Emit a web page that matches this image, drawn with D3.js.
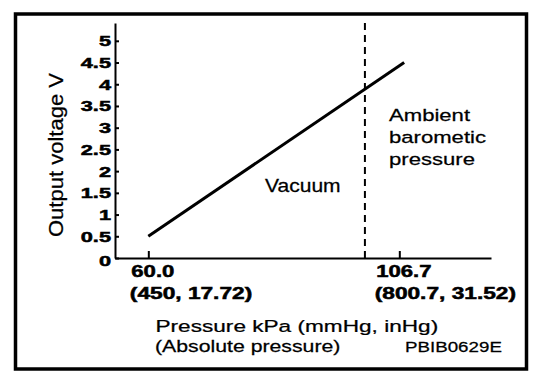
<!DOCTYPE html>
<html>
<head>
<meta charset="utf-8">
<script src="https://cdn.jsdelivr.net/npm/d3@7"></script>
<style>
    body { margin: 0; background: #fff; }
    text { font-family: "Liberation Sans", Arial, sans-serif; fill: #000; }
    .heavy { stroke: #000; stroke-width: 0.5px; }
    .reg { stroke: #000; stroke-width: 0.25px; }
</style>
</head>
<body>
<div id="plot-container"></div>
<script>
const voltageTicks = [0, 0.5, 1, 1.5, 2, 2.5, 3, 3.5, 4, 4.5, 5];
const pressureTicks = [60.0, 106.7];
const pressureTickLabels = ["60.0", "106.7"];
const pressureSubLabels = ["(450, 17.72)", "(800.7, 31.52)"];
const linePressure = [60.0, 107.6];
const lineVoltage = [0.5, 4.5];
const ambientPressure = 100.3;
const ambientLabel = ["Ambient", "barometic", "pressure"];

const width = 560, height = 382;

const svg = d3.select("#plot-container")
    .append("svg")
    .attr("width", width)
    .attr("height", height);

// outer frame
svg.append("rect")
    .attr("x", 15.5)
    .attr("y", 14)
    .attr("width", 511)
    .attr("height", 355)
    .attr("fill", "none")
    .attr("stroke", "#000")
    .attr("stroke-width", 3.5);

const x = d3.scaleLinear().domain([53.8, 123.76]).range([115, 491]);
const y = d3.scaleLinear().domain([0, 5.41]).range([258, 23]);

// text with horizontal stretch, like the wide font of the original
function wideText(g, tx, ty, str, size, sx, weight, anchor) {
    return g.append("text")
        .attr("class", weight === "bold" ? "heavy" : "reg")
        .attr("transform", `translate(${tx},${ty}) scale(${sx},1)`)
        .attr("text-anchor", anchor || "start")
        .style("font-size", size + "px")
        .style("font-weight", weight || "normal")
        .text(str);
}

// y axis
const yAxis = svg.append("g")
    .attr("transform", "translate(115,0)")
    .call(d3.axisLeft(y).tickValues(voltageTicks).tickSizeInner(-4).tickSizeOuter(0).tickPadding(4)
        .tickFormat(d => String(d)));
yAxis.select(".domain").attr("stroke-width", 2);
yAxis.selectAll(".tick line").attr("stroke-width", 2);
yAxis.selectAll(".tick text")
    .attr("class", "heavy")
    .attr("x", -4 / 1.5)
    .attr("dy", d => d === 0 ? "0.55em" : "0.34em")
    .attr("transform", "scale(1.5,1)")
    .style("font-size", "14.5px")
    .style("font-weight", "bold")
    .style("font-family", "Liberation Sans, Arial, sans-serif");

// x axis
const xAxis = svg.append("g")
    .attr("transform", "translate(0,258)")
    .call(d3.axisBottom(x).tickValues(pressureTicks).tickSizeInner(-7).tickSizeOuter(0).tickFormat(""));
xAxis.select(".domain").attr("stroke-width", 2);
xAxis.selectAll(".tick line").attr("stroke-width", 2);

pressureTicks.forEach((p, i) => {
    const t1 = wideText(svg, x(p) + 4.5, 277, pressureTickLabels[i], 16, 1.38, "bold", "middle");
    const w = t1.node().getComputedTextLength() * 1.38;
    wideText(svg, x(p) + 4.5 - w / 2 - 1.5, 299, pressureSubLabels[i], 16, 1.42, "bold", "start");
});

// ambient pressure dashed line
svg.append("line")
    .attr("x1", x(ambientPressure))
    .attr("x2", x(ambientPressure))
    .attr("y1", y(5.41))
    .attr("y2", y(0))
    .attr("stroke", "#000")
    .attr("stroke-width", 2)
    .attr("stroke-dasharray", "7,5");

// output line
const pts = linePressure.map((p, i) => [p, lineVoltage[i]]);
svg.append("path")
    .datum(pts)
    .attr("fill", "none")
    .attr("stroke", "#000")
    .attr("stroke-width", 3)
    .attr("d", d3.line().x(d => x(d[0])).y(d => y(d[1])));

// labels
svg.append("text")
    .attr("class", "reg")
    .attr("transform", "translate(63,155) rotate(-90) scale(1.05,1)")
    .attr("text-anchor", "middle")
    .style("font-size", "21px")
    .text("Output voltage V");

wideText(svg, 155.5, 331.5, "Pressure kPa (mmHg, inHg)", 17, 1.33);
wideText(svg, 155, 352, "(Absolute pressure)", 17, 1.25);
wideText(svg, 405, 352, "PBIB0629E", 15, 1.25);
wideText(svg, 265, 192, "Vacuum", 18, 1.17);
ambientLabel.forEach((s, i) => wideText(svg, 389, 121 + i * 22, s, 17, 1.3));
</script>
</body>
</html>
